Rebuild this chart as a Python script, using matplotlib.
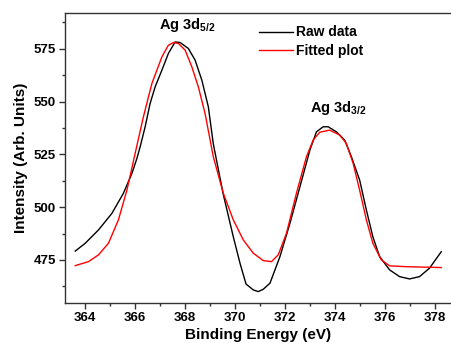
import matplotlib
matplotlib.use('Agg')
import matplotlib.pyplot as plt
from matplotlib.ticker import MultipleLocator

plt.rcParams['font.family'] = ['Liberation Sans', 'DejaVu Sans']
plt.rcParams['font.weight'] = 'bold'
plt.rcParams['mathtext.default'] = 'regular'

# Raw XPS spectrum
raw_x = [363.61, 364.01, 364.54, 365.08, 365.54, 365.88, 366.08, 366.21, 366.41, 366.61,
         366.81, 367.08, 367.34, 367.61, 367.81, 368.14, 368.41, 368.68, 368.94, 369.14,
         369.54, 369.94, 370.21, 370.45, 370.74, 370.94, 371.14, 371.41, 371.81, 372.21,
         372.61, 373.01, 373.27, 373.54, 373.74, 374.07, 374.40, 374.67, 375.00, 375.27,
         375.53, 375.80, 376.20, 376.60, 377.00, 377.40, 377.80, 378.27]
raw_y = [479.2, 482.9, 489.2, 497.1, 506.6, 516.0, 523.1, 528.6, 538.1, 549.2,
         557.0, 564.9, 572.8, 578.3, 578.0, 575.2, 569.7, 560.2, 547.6, 530.0,
         506.0, 486.0, 473.4, 463.6, 460.8, 460.0, 461.1, 464.0, 476.6, 492.4,
         509.7, 527.1, 535.7, 538.1, 538.1, 535.7, 531.8, 523.9, 512.9, 498.7,
         486.0, 476.6, 470.3, 467.1, 466.0, 467.1, 471.1, 478.9]

# Fitted curve
fit_x = [363.61, 364.14, 364.54, 364.94, 365.34, 365.68, 366.01, 366.34, 366.68, 367.08,
         367.34, 367.54, 367.74, 368.01, 368.28, 368.54, 368.81, 369.14, 369.54, 369.94,
         370.34, 370.74, 371.14, 371.47, 371.74, 372.07, 372.47, 372.87, 373.14, 373.40,
         373.80, 374.20, 374.47, 374.74, 375.00, 375.27, 375.53, 375.87, 376.20, 376.87,
         378.27]
fit_y = [472.3, 474.2, 477.4, 482.9, 494.0, 508.1, 525.5, 542.8, 558.6, 571.2,
         576.7, 578.0, 577.6, 574.4, 566.5, 557.0, 544.4, 523.9, 506.6, 494.0,
         484.5, 478.2, 474.7, 474.2, 477.4, 487.6, 506.6, 523.9, 531.8, 535.5,
         536.5, 534.2, 530.2, 520.8, 508.1, 494.0, 482.9, 475.0, 472.2, 471.8,
         471.4]

fig = plt.figure(figsize=(4.52, 3.43), dpi=100)
ax = fig.add_axes([65 / 452, 1 - 303 / 343, 387 / 452, 290 / 343])

ax.plot(raw_x, raw_y, color='black', lw=1.0, label='Raw data')
ax.plot(fit_x, fit_y, color='red', lw=1.0, label='Fitted plot')

ax.set_xlim(363.2, 378.7)
ax.set_ylim(454.6, 592)
ax.xaxis.set_major_locator(MultipleLocator(2))
ax.xaxis.set_minor_locator(MultipleLocator(1))
ax.yaxis.set_major_locator(MultipleLocator(25))
ax.yaxis.set_minor_locator(MultipleLocator(12.5))
ax.tick_params(which='both', direction='out', top=False, right=False,
               labelsize=9.5, width=1, color='#333333', pad=2.5)
ax.tick_params(which='major', length=4)
ax.tick_params(which='minor', length=2.5)
for s in ax.spines.values():
    s.set_color('#333333')
    s.set_linewidth(1.0)

ax.set_xlabel('Binding Energy (eV)', fontsize=11, fontweight='bold', labelpad=3)
ax.set_ylabel('Intensity (Arb. Units)', fontsize=11, fontweight='bold', labelpad=4)

# peak labels
ax.text(368.1, 582.1, r'Ag 3d$_{5/2}$', fontsize=10.5, fontweight='bold', ha='center', va='bottom')
ax.text(374.15, 542.5, r'Ag 3d$_{3/2}$', fontsize=10.5, fontweight='bold', ha='center', va='bottom')

leg = ax.legend(loc='upper left', bbox_to_anchor=(0.47, 1.0), frameon=False,
                fontsize=10, handlelength=2.4, handletextpad=0.25, labelspacing=0.35)

fig.savefig('out.png', dpi=100)
